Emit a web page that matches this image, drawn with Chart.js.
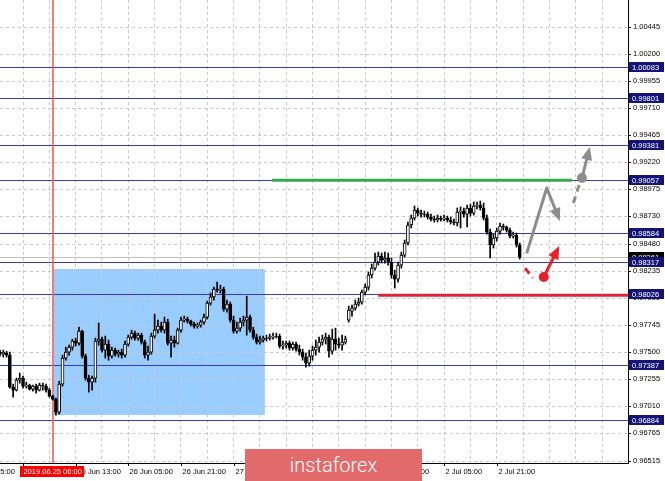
<!DOCTYPE html>
<html>
<head>
<meta charset="utf-8">
<script src="https://cdn.jsdelivr.net/npm/chart.js@4.4.0/dist/chart.umd.min.js"></script>
<style>
  html, body { margin: 0; padding: 0; background: #fff; overflow: hidden; }
  #wrap { position: relative; width: 665px; height: 481px; }
  #logo { position: absolute; left: 245px; top: 449px; width: 177px; height: 32px; background: #e26a6a;
          color: #fff; font: 300 20px Roboto, sans-serif; line-height: 32px; text-align: center; }
</style>
</head>
<body>
<div id="wrap">
  <canvas id="grafico" width="665" height="481"></canvas>
  <div id="logo">instaforex</div>
</div>
<script>
// hourly candles, bar index 0 .. 158
var opens = [0.97501,0.97483,0.97492,0.97474,0.97184,0.97157,0.97247,0.97266,0.97193,0.97202,
  0.97165,0.97193,0.97157,0.97202,0.97193,0.97157,0.97103,0.97075,0.96957,0.97211,
  0.97446,0.97501,0.97546,0.97601,0.97583,0.97691,0.97465,0.97266,0.97229,0.97266,
  0.97601,0.97618,0.97519,0.97574,0.97465,0.97519,0.97483,0.97501,0.97474,0.97574,
  0.97637,0.97673,0.97628,0.97655,0.97592,0.97474,0.97501,0.97646,0.97700,0.97737,
  0.97700,0.97773,0.97583,0.97610,0.97583,0.97700,0.97791,0.97800,0.97782,0.97755,
  0.97737,0.97746,0.97773,0.97818,0.97945,0.98000,0.98071,0.98063,0.98071,0.97890,
  0.97936,0.97791,0.97691,0.97718,0.97773,0.97791,0.97818,0.97700,0.97637,0.97592,
  0.97610,0.97628,0.97625,0.97637,0.97646,0.97644,0.97556,0.97564,0.97583,0.97538,
  0.97574,0.97528,0.97501,0.97456,0.97401,0.97465,0.97519,0.97546,0.97592,0.97618,
  0.97637,0.97510,0.97618,0.97574,0.97564,0.97592,0.97791,0.97872,0.97900,0.97936,
  0.97954,0.98045,0.98090,0.98199,0.98262,0.98316,0.98371,0.98334,0.98353,0.98316,
  0.98199,0.98162,0.98289,0.98380,0.98489,0.98652,0.98715,0.98787,0.98760,0.98751,
  0.98749,0.98724,0.98706,0.98697,0.98715,0.98706,0.98715,0.98697,0.98679,0.98670,
  0.98769,0.98778,0.98751,0.98806,0.98760,0.98824,0.98833,0.98806,0.98715,0.98588,
  0.98471,0.98534,0.98597,0.98643,0.98634,0.98606,0.98552,0.98561,0.98471];
var highs = [0.97519,0.97519,0.97510,0.97501,0.97211,0.97266,0.97311,0.97284,0.97229,0.97211,
  0.97202,0.97211,0.97220,0.97220,0.97211,0.97175,0.97112,0.97085,0.97238,0.97474,
  0.97546,0.97564,0.97618,0.97628,0.97727,0.97700,0.97483,0.97293,0.97284,0.97628,
  0.97764,0.97637,0.97646,0.97610,0.97546,0.97537,0.97519,0.97528,0.97601,0.97655,
  0.97700,0.97691,0.97673,0.97673,0.97610,0.97556,0.97673,0.97845,0.97791,0.97773,
  0.97818,0.97799,0.97646,0.97646,0.97718,0.97818,0.97827,0.97818,0.97791,0.97773,
  0.97764,0.97791,0.97845,0.97963,0.98036,0.98090,0.98135,0.98108,0.98090,0.97972,
  0.97954,0.97827,0.97773,0.97809,0.97827,0.98008,0.97836,0.97727,0.97664,0.97646,
  0.97646,0.97655,0.97664,0.97673,0.97673,0.97664,0.97601,0.97601,0.97601,0.97592,
  0.97592,0.97564,0.97528,0.97492,0.97519,0.97556,0.97610,0.97637,0.97655,0.97673,
  0.97655,0.97709,0.97718,0.97628,0.97655,0.97646,0.97918,0.97927,0.97972,0.97991,
  0.98063,0.98117,0.98226,0.98298,0.98398,0.98407,0.98398,0.98407,0.98398,0.98353,
  0.98244,0.98316,0.98407,0.98516,0.98679,0.98742,0.98824,0.98806,0.98787,0.98778,
  0.98769,0.98751,0.98733,0.98742,0.98733,0.98742,0.98733,0.98724,0.98706,0.98806,
  0.98815,0.98806,0.98833,0.98842,0.98860,0.98860,0.98869,0.98851,0.98742,0.98616,
  0.98570,0.98625,0.98670,0.98661,0.98643,0.98624,0.98588,0.98579,0.98489];
var lows = [0.97465,0.97456,0.97456,0.97175,0.97094,0.97148,0.97220,0.97175,0.97175,0.97157,
  0.97148,0.97130,0.97148,0.97157,0.97139,0.97094,0.97066,0.96930,0.96939,0.97193,
  0.97428,0.97474,0.97519,0.97556,0.97564,0.97447,0.97247,0.97139,0.97157,0.97229,
  0.97564,0.97501,0.97447,0.97428,0.97447,0.97465,0.97456,0.97447,0.97456,0.97556,
  0.97618,0.97610,0.97610,0.97574,0.97447,0.97428,0.97483,0.97628,0.97673,0.97682,
  0.97673,0.97564,0.97456,0.97546,0.97574,0.97682,0.97773,0.97764,0.97737,0.97718,
  0.97718,0.97727,0.97755,0.97800,0.97927,0.97972,0.98045,0.98036,0.97872,0.97863,
  0.97773,0.97673,0.97673,0.97691,0.97737,0.97655,0.97682,0.97618,0.97574,0.97574,
  0.97592,0.97601,0.97610,0.97618,0.97628,0.97538,0.97528,0.97538,0.97519,0.97519,
  0.97510,0.97474,0.97428,0.97365,0.97374,0.97428,0.97474,0.97501,0.97564,0.97574,
  0.97456,0.97483,0.97519,0.97538,0.97519,0.97574,0.97773,0.97827,0.97881,0.97918,
  0.97936,0.98018,0.98063,0.98172,0.98244,0.98289,0.98307,0.98307,0.98289,0.98172,
  0.98081,0.98135,0.98262,0.98362,0.98471,0.98625,0.98697,0.98733,0.98724,0.98724,
  0.98706,0.98688,0.98679,0.98679,0.98688,0.98688,0.98679,0.98661,0.98652,0.98643,
  0.98625,0.98724,0.98634,0.98733,0.98742,0.98797,0.98787,0.98697,0.98570,0.98353,
  0.98443,0.98507,0.98570,0.98606,0.98588,0.98534,0.98534,0.98452,0.98343];
var closes = [0.97483,0.97501,0.97474,0.97184,0.97157,0.97247,0.97266,0.97193,0.97202,0.97165,
  0.97193,0.97157,0.97202,0.97193,0.97157,0.97103,0.97075,0.96957,0.97211,0.97446,
  0.97501,0.97546,0.97601,0.97583,0.97691,0.97465,0.97266,0.97229,0.97266,0.97601,
  0.97618,0.97519,0.97574,0.97465,0.97519,0.97483,0.97501,0.97474,0.97574,0.97637,
  0.97673,0.97628,0.97655,0.97592,0.97474,0.97501,0.97646,0.97700,0.97737,0.97700,
  0.97773,0.97583,0.97610,0.97583,0.97700,0.97791,0.97800,0.97782,0.97755,0.97737,
  0.97746,0.97773,0.97818,0.97945,0.98000,0.98071,0.98063,0.98071,0.97890,0.97936,
  0.97791,0.97691,0.97718,0.97773,0.97791,0.97818,0.97700,0.97637,0.97592,0.97610,
  0.97628,0.97625,0.97637,0.97646,0.97644,0.97556,0.97564,0.97583,0.97538,0.97574,
  0.97528,0.97501,0.97456,0.97401,0.97465,0.97519,0.97546,0.97592,0.97618,0.97637,
  0.97510,0.97618,0.97574,0.97564,0.97592,0.97618,0.97881,0.97900,0.97936,0.97954,
  0.98045,0.98090,0.98199,0.98262,0.98316,0.98371,0.98334,0.98353,0.98316,0.98199,
  0.98162,0.98289,0.98380,0.98489,0.98652,0.98715,0.98787,0.98760,0.98751,0.98749,
  0.98724,0.98706,0.98697,0.98715,0.98706,0.98715,0.98697,0.98679,0.98670,0.98769,
  0.98778,0.98751,0.98806,0.98760,0.98824,0.98833,0.98806,0.98715,0.98588,0.98471,
  0.98534,0.98597,0.98643,0.98634,0.98606,0.98552,0.98561,0.98471,0.98361];

// horizontal levels and price axis
var levels = [1.00083, 0.99801, 0.99381, 0.99057, 0.98584, 0.98317, 0.98026, 0.97387, 0.96884];
var lastPrice = 0.98361;
var yTicks = [1.00445, 1.00200, 0.99955, 0.99710, 0.99465, 0.99220, 0.98975, 0.98730, 0.98480,
  0.98235, 0.97990, 0.97745, 0.97500, 0.97255, 0.97010, 0.96765, 0.96515];

// time axis
var gridBars = [7, 15, 23, 31, 39, 47, 55, 63, 71, 79, 87, 95, 103, 111, 119, 127, 135, 143, 151, 159, 167, 175, 183];
var timeBars = [-9, 7, 23, 39, 55, 71, 87, 103, 119, 135, 151];
var timeLabels = ['24 Jun 05:00', '24 Jun 21:00', '25 Jun 13:00', '26 Jun 05:00', '26 Jun 21:00',
  '27 Jun 13:00', '28 Jun 05:00', '28 Jun 21:00', '1 Jul 13:00', '2 Jul 05:00', '2 Jul 21:00'];
var markBar = 16;
var markLabel = '2019.06.25 06:00';

// drawn objects (bar index, price)
var zoneBars = [16.4, 80.5];
var zonePrices = [0.98254, 0.96932];
var greenLevel = 0.99057, greenBars = [82.7, 173.9];
var redLevel = 0.98026, redBars = [114.9, 191];
var grayPath = [[160.1, 0.98395], [166.2, 0.98987], [170.2, 0.98688]];
var grayDash = [[174.3, 0.98851], [176.3, 0.99040]];
var grayUp = [[176.9, 0.99077], [179.3, 0.99358]];
var redDash = [[159.6, 0.98262], [162.0, 0.98172]];
var redUp = [[165.3, 0.98181], [170.0, 0.98461]];

var FONT = '7.5px "Liberation Sans", Arial, sans-serif';

function P(chart, bar, price) {
  return [chart.scales.x.getPixelForValue(bar), chart.scales.y.getPixelForValue(price)];
}

function seta(ctx, pts, color) {
  var n = pts.length, a = pts[n - 2], b = pts[n - 1];
  var ang = Math.atan2(b[1] - a[1], b[0] - a[0]), hl = 13, hw = 5.5;
  ctx.save();
  ctx.strokeStyle = color; ctx.fillStyle = color; ctx.lineWidth = 3; ctx.lineJoin = 'round';
  ctx.beginPath();
  ctx.moveTo(pts[0][0], pts[0][1]);
  for (var i = 1; i < n - 1; i++) ctx.lineTo(pts[i][0], pts[i][1]);
  ctx.lineTo(b[0] - Math.cos(ang) * hl * 0.7, b[1] - Math.sin(ang) * hl * 0.7);
  ctx.stroke();
  var bx = b[0] - Math.cos(ang) * hl, by = b[1] - Math.sin(ang) * hl;
  ctx.beginPath();
  ctx.moveTo(b[0], b[1]);
  ctx.lineTo(bx + Math.sin(ang) * hw, by - Math.cos(ang) * hw);
  ctx.lineTo(bx - Math.sin(ang) * hw, by + Math.cos(ang) * hw);
  ctx.closePath();
  ctx.fill();
  ctx.restore();
}

function tracejado(ctx, pts, color) {
  ctx.save();
  ctx.strokeStyle = color; ctx.lineWidth = 3; ctx.setLineDash([7, 5]);
  ctx.beginPath(); ctx.moveTo(pts[0][0], pts[0][1]); ctx.lineTo(pts[1][0], pts[1][1]); ctx.stroke();
  ctx.restore();
}

function ponto(ctx, p, color) {
  ctx.save(); ctx.fillStyle = color;
  ctx.beginPath(); ctx.arc(p[0], p[1], 5, 0, Math.PI * 2); ctx.fill();
  ctx.restore();
}

function caixa(ctx, x, y, text, bg) {
  ctx.fillStyle = bg;
  ctx.fillRect(x, Math.round(y) - 5, 35, 10);
  ctx.fillStyle = '#fff';
  ctx.fillText(text, x + 3, Math.round(y) + 0.5);
}

var desenhos = {
  id: 'desenhos',
  beforeDraw: function (chart) {
    var ctx = chart.ctx;
    var a = P(chart, zoneBars[0], zonePrices[0]), b = P(chart, zoneBars[1], zonePrices[1]);
    ctx.save();
    ctx.fillStyle = '#99ccff';
    ctx.fillRect(a[0], a[1], b[0] - a[0], b[1] - a[1]);
    ctx.restore();
  },
  beforeDatasetsDraw: function (chart) {
    var ctx = chart.ctx, area = chart.chartArea, y = chart.scales.y;
    ctx.save();
    ctx.lineWidth = 1;
    ctx.strokeStyle = '#c4c4c4';
    var yp = Math.round(y.getPixelForValue(lastPrice)) + 0.5;
    ctx.beginPath(); ctx.moveTo(area.left, yp); ctx.lineTo(area.right, yp); ctx.stroke();
    ctx.strokeStyle = '#3a3ab8';
    ctx.lineWidth = 1.2;
    levels.forEach(function (v) {
      var py = Math.round(y.getPixelForValue(v)) + 0.5;
      ctx.beginPath(); ctx.moveTo(area.left, py); ctx.lineTo(area.right, py); ctx.stroke();
    });
    var mx = Math.round(chart.scales.x.getPixelForValue(markBar));
    ctx.strokeStyle = '#ee5c5c';
    ctx.lineWidth = 1.6;
    ctx.beginPath(); ctx.moveTo(mx, area.top); ctx.lineTo(mx, area.bottom); ctx.stroke();
    ctx.restore();
  },
  afterDatasetsDraw: function (chart) {
    var ctx = chart.ctx;
    ctx.save();
    ctx.lineWidth = 3;
    var g1 = P(chart, greenBars[0], greenLevel), g2 = P(chart, greenBars[1], greenLevel);
    ctx.strokeStyle = '#3aa64f';
    ctx.beginPath(); ctx.moveTo(g1[0], g1[1]); ctx.lineTo(g2[0], g2[1]); ctx.stroke();
    var r1 = P(chart, redBars[0], redLevel), r2 = P(chart, redBars[1], redLevel);
    ctx.strokeStyle = '#e0203c';
    ctx.beginPath(); ctx.moveTo(r1[0], r1[1] + 1); ctx.lineTo(r2[0], r2[1] + 1); ctx.stroke();
    ctx.restore();
    var conv = function (arr) { return arr.map(function (p) { return P(chart, p[0], p[1]); }); };
    var cinza = '#8c8c8c', verm = '#e8202a';
    seta(ctx, conv(grayPath), cinza);
    tracejado(ctx, conv(grayDash), cinza);
    seta(ctx, conv(grayUp), cinza);
    ponto(ctx, conv(grayUp)[0], cinza);
    tracejado(ctx, conv(redDash), verm);
    seta(ctx, conv(redUp), verm);
    ponto(ctx, conv(redUp)[0], verm);
  },
  afterDraw: function (chart) {
    var ctx = chart.ctx, area = chart.chartArea, x = chart.scales.x, y = chart.scales.y;
    ctx.save();
    ctx.font = FONT;
    ctx.textBaseline = 'middle';
    ctx.textAlign = 'left';
    // price boxes
    caixa(ctx, area.right + 1, y.getPixelForValue(lastPrice), lastPrice.toFixed(5), '#000');
    levels.forEach(function (v) {
      caixa(ctx, area.right + 1, y.getPixelForValue(v), v.toFixed(5), '#141478');
    });
    // time labels
    ctx.fillStyle = '#000';
    ctx.strokeStyle = '#000';
    ctx.lineWidth = 1;
    timeBars.forEach(function (b, i) {
      var px = Math.round(x.getPixelForValue(b)) + 0.5;
      ctx.beginPath(); ctx.moveTo(px, area.bottom); ctx.lineTo(px, area.bottom + 3); ctx.stroke();
      ctx.fillText(timeLabels[i], px + 1, area.bottom + 9);
    });
    // marked date
    var mx = x.getPixelForValue(markBar);
    var w = ctx.measureText(markLabel).width + 6;
    ctx.fillStyle = '#ff0000';
    ctx.fillRect(Math.round(mx - w / 2), area.bottom + 3, Math.round(w), 11);
    ctx.fillStyle = '#fff';
    ctx.textAlign = 'center';
    ctx.fillText(markLabel, mx, area.bottom + 9);
    ctx.restore();
  }
};

var corpos = opens.map(function (o, i) {
  return { x: i, y: [Math.min(o, closes[i]), Math.max(o, closes[i])] };
});
var pavios = lows.map(function (l, i) {
  return { x: i, y: [l, highs[i]] };
});
var corCorpo = opens.map(function (o, i) { return closes[i] >= o ? '#ffffff' : '#000000'; });

var ctx = document.getElementById('grafico');

var myChart = new Chart(ctx, {
  type: 'bar',
  data: {
    datasets: [{
      data: corpos,
      backgroundColor: corCorpo,
      borderColor: '#000',
      borderWidth: 1,
      borderSkipped: false,
      barThickness: 3,
      grouped: false
    }, {
      data: pavios,
      backgroundColor: '#000',
      borderWidth: 0,
      barThickness: 1,
      grouped: false
    }]
  },
  options: {
    responsive: false,
    devicePixelRatio: 1,
    animation: false,
    events: [],
    layout: { padding: 0 },
    plugins: { legend: { display: false }, tooltip: { enabled: false }, title: { display: false } },
    scales: {
      x: {
        type: 'linear',
        min: 0,
        max: 190.9,
        offset: false,
        afterBuildTicks: function (s) { s.ticks = gridBars.map(function (v) { return { value: v }; }); },
        afterFit: function (s) { s.height = 18; s.paddingLeft = 0; s.paddingRight = 0; },
        ticks: { display: false, autoSkip: false },
        grid: { color: '#c8c8c8', offset: false, drawTicks: false },
        border: { display: true, color: '#000', width: 1, dash: [3, 3] }
      },
      y: {
        position: 'right',
        min: 0.96497,
        max: 1.006895,
        afterBuildTicks: function (s) { s.ticks = yTicks.map(function (v) { return { value: v }; }); },
        afterFit: function (s) { s.width = 37; s.paddingTop = 0; s.paddingBottom = 0; },
        ticks: {
          autoSkip: false,
          padding: 2,
          color: '#000',
          font: { family: '"Liberation Sans", Arial, sans-serif', size: 7.5 },
          callback: function (v) { return Number(v).toFixed(5); }
        },
        grid: { color: '#c8c8c8', tickLength: 3, tickColor: '#000', tickBorderDash: [] },
        border: { display: true, color: '#000', width: 1, dash: [3, 3] }
      }
    }
  },
  plugins: [desenhos]
});
</script>
</body>
</html>
